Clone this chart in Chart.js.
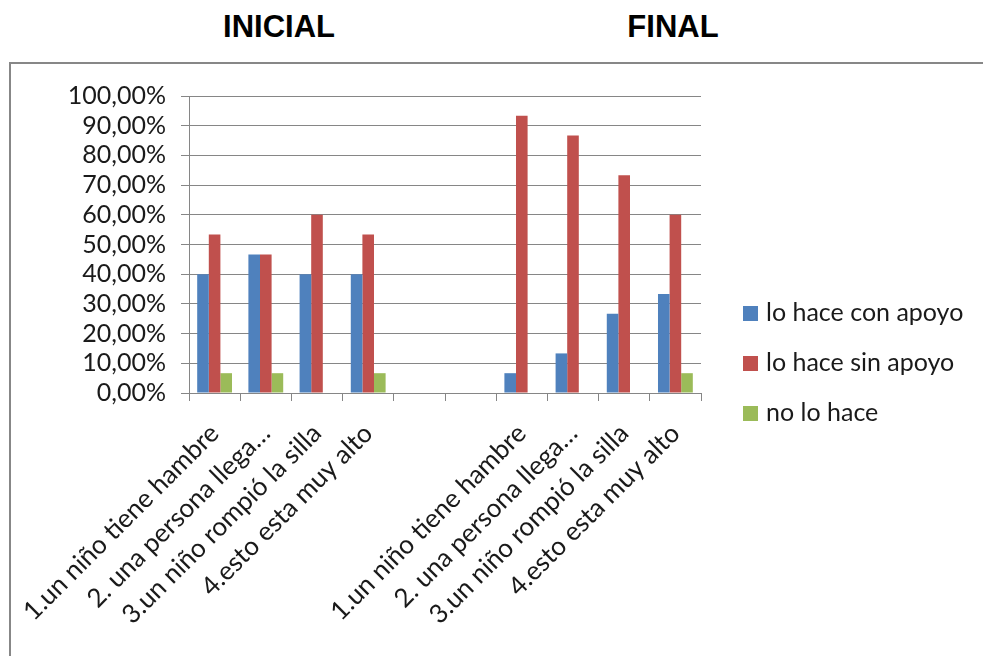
<!DOCTYPE html>
<html>
<head>
<meta charset="utf-8">
<script src="https://cdn.jsdelivr.net/npm/chart.js@4/dist/chart.umd.min.js"></script>
<style>
  html, body { margin: 0; padding: 0; background: #fff; width: 983px; height: 656px; overflow: hidden; }
  .title { position: absolute; top: 9px; font: bold 31px "Liberation Sans", Arial, sans-serif; color: #000; transform: translateX(-50%); white-space: nowrap; }
  #frame { position: absolute; left: 9px; top: 62px; width: 1000px; height: 640px; border-left: 2px solid #878787; border-top: 2px solid #878787; }
  #wrap { position: absolute; left: 11px; top: 64px; width: 972px; height: 592px; }
</style>
</head>
<body>
<div class="title" style="left:279px">INICIAL</div>
<div class="title" style="left:673px">FINAL</div>
<div id="frame"></div>
<div id="wrap"><canvas id="c" width="972" height="592"></canvas></div>
<script>
// Activities, listed for the initial and the final assessment with a gap between them
const categories = [
  "1.un niño tiene hambre", "2. una persona llega…", "3.un niño rompió la silla", "4.esto esta muy alto",
  "", "",
  "1.un niño tiene hambre", "2. una persona llega…", "3.un niño rompió la silla", "4.esto esta muy alto"
];
const seriesNames = ["lo hace con apoyo", "lo hace sin apoyo", "no lo hace"];
const conApoyo = [40.00, 46.67, 40.00, 40.00, null, null, 6.67, 13.33, 26.67, 33.33];
const sinApoyo = [53.33, 46.67, 60.00, 53.33, null, null, 93.33, 86.67, 73.33, 60.00];
const noLoHace = [6.67, 6.67, 0, 6.67, null, null, 0, 0, 0, 6.67];
const yTicks = [0, 10, 20, 30, 40, 50, 60, 70, 80, 90, 100];

const colors = ["#4F81BD", "#C0504D", "#9BBB59"];
const FONT = "Lato, 'Open Sans', sans-serif";
const TEXT = "#1a1a1a";
const GRID = "#868686";

const fmtPct = v => v.toFixed(2).replace(".", ",") + "%";

// Legend drawn to the right of the plot, one row per series
const sideLegend = {
  id: "sideLegend",
  afterDraw(chart) {
    const ctx = chart.ctx;
    ctx.save();
    ctx.font = "25px " + FONT;
    ctx.textBaseline = "middle";
    ctx.textAlign = "left";
    chart.data.datasets.forEach((ds, i) => {
      const cy = 249 + i * 50;
      ctx.fillStyle = ds.backgroundColor;
      ctx.fillRect(732, cy - 7, 15, 15);
      ctx.fillStyle = TEXT;
      ctx.fillText(ds.label, 755, cy);
    });
    ctx.restore();
  }
};

new Chart(document.getElementById("c"), {
  type: "bar",
  data: {
    labels: categories,
    datasets: [
      { label: seriesNames[0], data: conApoyo, backgroundColor: colors[0] },
      { label: seriesNames[1], data: sinApoyo, backgroundColor: colors[1] },
      { label: seriesNames[2], data: noLoHace, backgroundColor: colors[2] }
    ]
  },
  options: {
    responsive: false,
    animation: false,
    layout: { padding: { left: 0, top: 32, right: 282, bottom: 0 } },
    datasets: { bar: { categoryPercentage: 0.68, barPercentage: 1.0 } },
    plugins: { legend: { display: false }, tooltip: { enabled: false }, title: { display: false } },
    scales: {
      x: {
        grid: { display: true, drawOnChartArea: false, drawTicks: true, tickLength: 8, color: GRID, offset: true },
        border: { display: true, color: GRID, width: 1 },
        ticks: {
          autoSkip: false, maxRotation: 45, minRotation: 45, padding: 17,
          color: TEXT, font: { family: FONT, size: 26 }
        },
        afterFit(scale) { scale.height = 263; scale.paddingLeft = 0; scale.paddingRight = 0; }
      },
      y: {
        min: 0, max: 100,
        afterBuildTicks(scale) { scale.ticks = yTicks.map(v => ({ value: v })); },
        grid: { color: GRID, tickLength: 8, drawTicks: true },
        border: { display: true, color: GRID, width: 1 },
        ticks: {
          autoSkip: false, padding: 15, color: TEXT, font: { family: FONT, size: 25 },
          callback: v => fmtPct(v)
        },
        afterFit(scale) { scale.width = 178; scale.paddingTop = 0; scale.paddingBottom = 0; }
      }
    }
  },
  plugins: [sideLegend]
});
</script>
</body>
</html>
